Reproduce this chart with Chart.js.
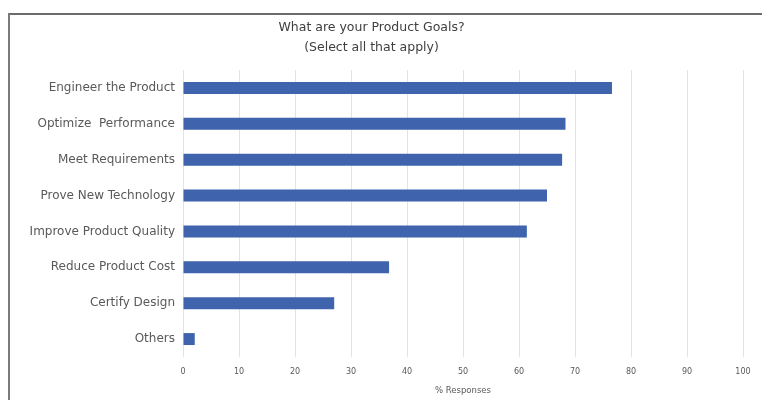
<!DOCTYPE html>
<html>
<head>
<meta charset="utf-8">
<script src="https://cdn.jsdelivr.net/npm/chart.js@4"></script>
<style>
  html, body { margin: 0; padding: 0; background: #fff; }
  #wrap { position: relative; width: 767px; height: 400px; }
  #frameTop { position: absolute; left: 8px; top: 13px; width: 754px; height: 2px; background: #6b6b6b; }
  #frameLeft { position: absolute; left: 8px; top: 13px; width: 2px; height: 387px; background: #7a7a7a; }
  canvas { position: absolute; left: 0; top: 0; }
</style>
</head>
<body>
<div id="wrap">
  <div id="frameTop"></div>
  <div id="frameLeft"></div>
  <canvas id="goalsChart" width="767" height="400"></canvas>
</div>
<script>
"use strict";
const goalLabels = [
    'Engineer the Product',
    'Optimize  Performance',
    'Meet Requirements',
    'Prove New Technology',
    'Improve Product Quality',
    'Reduce Product Cost',
    'Certify Design',
    'Others'
];
const responsePercent = [76.6, 68.3, 67.7, 65.0, 61.4, 36.8, 27.0, 2.1];
const chartTitle = ['What are your Product Goals?', '(Select all that apply)'];
const axisTitle = '% Responses';

document.addEventListener('DOMContentLoaded', () => {
    const canvas = document.getElementById('goalsChart');
    const ctx = canvas.getContext('2d');
    if (!ctx) {
        console.error('Could not get canvas context');
        return;
    }
    const textColor = '#595959';
    const fontFamily = '"DejaVu Sans", sans-serif';
    new Chart(ctx, {
        type: 'bar',
        data: {
            labels: goalLabels,
            datasets: [{
                data: responsePercent,
                backgroundColor: '#3f63ad',
                barPercentage: 0.9,
                categoryPercentage: 0.37
            }]
        },
        options: {
            indexAxis: 'y',
            responsive: false,
            animation: false,
            layout: { padding: { top: 18, right: 24, bottom: 4, left: 0 } },
            plugins: {
                legend: { display: false },
                tooltip: { enabled: false },
                title: {
                    display: true,
                    text: chartTitle,
                    color: '#404040',
                    font: { family: fontFamily, size: 12.5, weight: 'normal', lineHeight: 1.6 },
                    padding: { top: 0, bottom: 12 }
                }
            },
            scales: {
                x: {
                    min: 0,
                    max: 100,
                    ticks: {
                        stepSize: 10,
                        color: textColor,
                        font: { family: fontFamily, size: 8 },
                        padding: 10
                    },
                    grid: { color: '#e3e3e3', drawTicks: false },
                    border: { display: false },
                    title: {
                        display: true,
                        text: axisTitle,
                        color: textColor,
                        font: { family: fontFamily, size: 8.5 },
                        padding: 0
                    },
                    afterFit: (scale) => { scale.height = 39; }
                },
                y: {
                    ticks: {
                        color: textColor,
                        font: { family: fontFamily, size: 12 },
                        padding: 8
                    },
                    grid: { display: false, drawTicks: false },
                    border: { display: false },
                    afterFit: (scale) => { scale.width = 183; }
                }
            }
        }
    });
});
</script>
</body>
</html>
